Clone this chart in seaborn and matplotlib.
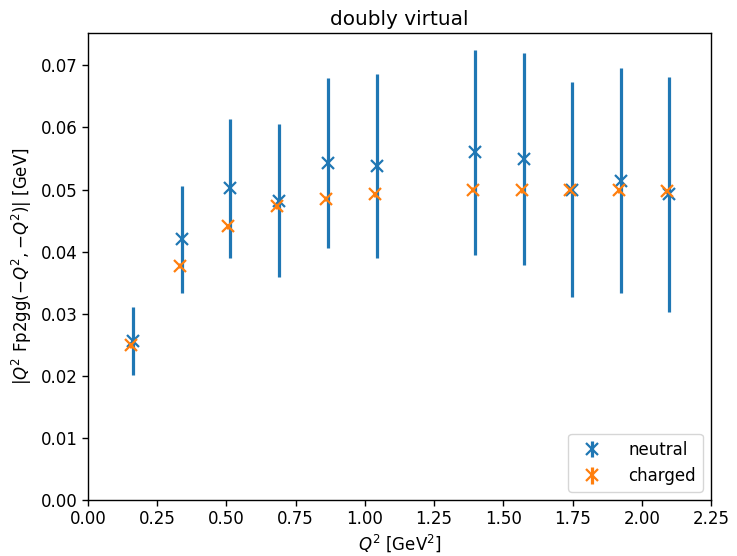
import numpy as np
import pandas as pd
import matplotlib
matplotlib.use("Agg")
import matplotlib.pyplot as plt
import seaborn as sns

# Data
q2 = [0.163, 0.339, 0.513, 0.690, 0.867, 1.044, 1.398, 1.575, 1.748, 1.925, 2.098]
neutral = [0.0256, 0.0420, 0.0502, 0.0482, 0.0543, 0.0538, 0.0560, 0.0549, 0.0500, 0.0514, 0.0492]
neutral_err = [0.0055, 0.0086, 0.0112, 0.0123, 0.0137, 0.0148, 0.0165, 0.0171, 0.0173, 0.0181, 0.0189]
charged = [0.0249, 0.0377, 0.0441, 0.0473, 0.0485, 0.0492, 0.0500, 0.0499, 0.0499, 0.0499, 0.0497]
charged_err = [0.0004, 0.0004, 0.0004, 0.0004, 0.0004, 0.0004, 0.0004, 0.0004, 0.0004, 0.0004, 0.0004]
xticks = [0.00, 0.25, 0.50, 0.75, 1.00, 1.25, 1.50, 1.75, 2.00, 2.25]
yticks = [0.00, 0.01, 0.02, 0.03, 0.04, 0.05, 0.06, 0.07]

df = pd.DataFrame({"q2": q2 + q2,
                   "val": neutral + charged,
                   "err": neutral_err + charged_err,
                   "kind": ["neutral"] * len(q2) + ["charged"] * len(q2)})

sns.set_theme(style="ticks")
plt.rcParams.update({
    "font.family": ["DejaVu Sans"],
    "font.size": 12,
    "axes.edgecolor": "black",
    "axes.linewidth": 1.0,
    "xtick.color": "black",
    "ytick.color": "black",
    "axes.labelcolor": "black",
    "text.color": "black",
    "xtick.direction": "out",
    "ytick.direction": "out",
})

fig = plt.figure(figsize=(7.37, 5.56), dpi=100)
ax = fig.add_axes([0.1194, 0.1007, 0.8453, 0.8399])

palette = sns.color_palette("tab10")
offsets = {"neutral": 0.0, "charged": -0.008}
colors = {"neutral": palette[0], "charged": palette[1]}
for kind in ["neutral", "charged"]:
    sub = df[df["kind"] == kind]
    ax.errorbar(sub["q2"] + offsets[kind], sub["val"], yerr=sub["err"],
                fmt="x", color=colors[kind], ecolor=colors[kind],
                elinewidth=2.3, markersize=8, markeredgewidth=1.6,
                label=kind)

ax.set_xlim(0, 2.25)
ax.set_ylim(0, 0.0752)
ax.set_xticks(xticks)
ax.set_yticks(yticks)
ax.set_xticklabels([f"{t:.2f}" for t in xticks])
ax.set_yticklabels([f"{t:.2f}" for t in yticks])
ax.tick_params(labelsize=12, length=4, width=1)
for s in ax.spines.values():
    s.set_visible(True)
ax.set_xlabel(r"$Q^2$ [GeV$^2$]", fontsize=12, labelpad=3)
ax.set_ylabel(r"$|Q^2$ Fp2gg$({-}Q^2,{-}Q^2)|$ [GeV]", fontsize=12, labelpad=5)
ax.set_title("doubly virtual", fontsize=14.4, pad=6)
ax.legend(loc="lower right", fontsize=12, frameon=True, framealpha=0.8,
          edgecolor="#cccccc", fancybox=True, handletextpad=1.2)

fig.savefig("out.png", dpi=100)
